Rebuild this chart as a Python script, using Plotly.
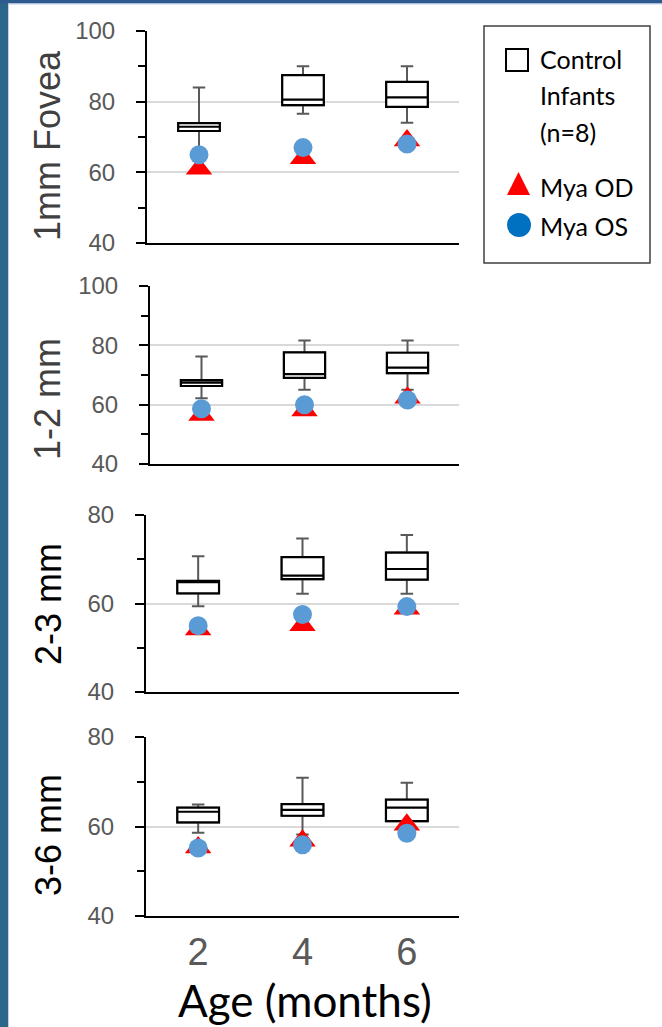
import plotly.graph_objects as go

W, H = 662, 1027

# ---------------- data ----------------
ages = ["2", "4", "6"]

# 1mm Fovea
fov_q1 = [71.7, 79.0, 78.5]
fov_med = [72.9, 80.6, 81.2]
fov_q3 = [73.9, 87.5, 85.6]
fov_lo = [66.0, 76.6, 74.0]
fov_hi = [84.0, 90.0, 90.0]
fov_od = [61.0, 64.0, 69.0]
fov_os = [65.0, 67.0, 68.0]

# 1-2 mm
p12_q1 = [66.3, 69.0, 70.6]
p12_med = [67.4, 70.3, 72.5]
p12_q3 = [68.3, 77.6, 77.5]
p12_lo = [62.2, 65.0, 65.0]
p12_hi = [76.2, 81.6, 81.6]
p12_od = [56.5, 58.0, 62.3]
p12_os = [58.6, 60.0, 61.6]

# 2-3 mm
p23_q1 = [62.3, 65.5, 65.4]
p23_med = [64.8, 66.3, 67.8]
p23_q3 = [65.1, 70.5, 71.5]
p23_lo = [59.4, 62.2, 62.2]
p23_hi = [70.7, 74.7, 75.5]
p23_od = [54.1, 55.1, 58.8]
p23_os = [55.0, 57.5, 59.3]

# 3-6 mm
p36_q1 = [60.9, 62.4, 61.2]
p36_med = [63.3, 63.7, 64.2]
p36_q3 = [64.2, 65.0, 66.0]
p36_lo = [58.6, 58.2, 59.0]
p36_hi = [64.9, 70.9, 69.8]
p36_od = [55.3, 56.8, 60.4]
p36_os = [55.2, 55.9, 58.5]

titles = ["1mm Fovea", "1-2 mm", "2-3 mm", "3-6 mm"]
x_title = "Age (months)"
legend_lines = ["Control", "Infants", "(n=8)"]
od_name = "Mya OD"
os_name = "Mya OS"

# ---------------- layout helpers ----------------
def px(v):
    return v / W

def py(v):
    return 1 - v / H

panels = [
    dict(q1=fov_q1, med=fov_med, q3=fov_q3, lo=fov_lo, hi=fov_hi, od=fov_od, os=fov_os,
         yr=[40, 100], box=(147, 459, 31, 243), tcol="#404040", tx=47, ty=146),
    dict(q1=p12_q1, med=p12_med, q3=p12_q3, lo=p12_lo, hi=p12_hi, od=p12_od, os=p12_os,
         yr=[40, 100], box=(150, 459, 286, 464), tcol="#404040", tx=48, ty=399),
    dict(q1=p23_q1, med=p23_med, q3=p23_q3, lo=p23_lo, hi=p23_hi, od=p23_od, os=p23_os,
         yr=[40, 80], box=(146, 459, 515, 692), tcol="#000000", tx=48, ty=604),
    dict(q1=p36_q1, med=p36_med, q3=p36_q3, lo=p36_lo, hi=p36_hi, od=p36_od, os=p36_os,
         yr=[40, 80], box=(146, 459, 737, 916), tcol="#000000", tx=48, ty=835),
]

ARIAL = "Liberation Sans, Arial, sans-serif"
CAL = "Lato, Carlito, sans-serif"

fig = go.Figure()
layout = dict(
    width=W, height=H,
    margin=dict(l=0, r=0, t=0, b=0, pad=0, autoexpand=False),
    paper_bgcolor="white", plot_bgcolor="white",
    showlegend=False, boxmode="overlay",
)
annotations = []

for i, p in enumerate(panels):
    n = "" if i == 0 else str(i + 1)
    xa, ya = "x" + n, "y" + n
    # whiskers (grey)
    fig.add_trace(go.Box(
        x=ages, q1=p["q1"], median=p["med"], q3=p["q3"],
        lowerfence=p["lo"], upperfence=p["hi"],
        line=dict(color="#595959", width=2), fillcolor="white",
        whiskerwidth=0.3, width=0.4, boxpoints=False, hoverinfo="skip",
        xaxis=xa, yaxis=ya))
    # box body (black)
    fig.add_trace(go.Box(
        x=ages, q1=p["q1"], median=p["med"], q3=p["q3"],
        lowerfence=p["q1"], upperfence=p["q3"],
        line=dict(color="black", width=2.2), fillcolor="white",
        whiskerwidth=0, width=0.4, boxpoints=False, hoverinfo="skip",
        xaxis=xa, yaxis=ya))
    fig.add_trace(go.Scatter(
        x=ages, y=p["od"], mode="markers", name=od_name,
        marker=dict(symbol="triangle-up", size=23, color="#FF0000", line=dict(width=0)),
        xaxis=xa, yaxis=ya))
    fig.add_trace(go.Scatter(
        x=ages, y=p["os"], mode="markers", name=os_name,
        marker=dict(symbol="circle", size=19, color="#5B9BD5", line=dict(width=0)),
        xaxis=xa, yaxis=ya))

    x0, x1, y0, y1 = p["box"]
    layout["xaxis" + n] = dict(
        domain=[px(x0), px(x1)], anchor=ya, type="category",
        categoryorder="array", categoryarray=ages, range=[-0.5, 2.5],
        showline=True, linecolor="black", linewidth=2, ticks="",
        showgrid=False, zeroline=False, showticklabels=(i == 3),
        tickfont=dict(family=ARIAL, size=38, color="#595959"),
        ticklabelstandoff=1, fixedrange=True, automargin=False)
    layout["yaxis" + n] = dict(
        domain=[py(y1), py(y0)], anchor=xa, range=p["yr"], tick0=0, dtick=20,
        showline=True, linecolor="black", linewidth=2,
        ticks="outside", ticklen=9, tickwidth=2, tickcolor="black",
        showgrid=True, gridcolor="#D9D9D9", gridwidth=1.5, zeroline=False,
        tickfont=dict(family=ARIAL, size=24, color="#595959"),
        ticklabelstandoff=16,
        minor=dict(dtick=10, ticks="outside", ticklen=7, tickwidth=2,
                   tickcolor="black", showgrid=False),
        fixedrange=True, automargin=False)
    annotations.append(dict(
        text=titles[i], xref="paper", yref="paper", x=px(p["tx"]), y=py(p["ty"]),
        xanchor="center", yanchor="middle", textangle=-90, showarrow=False,
        font=dict(family=ARIAL, size=36, color=p["tcol"])))

# x-axis title
annotations.append(dict(
    text=x_title, xref="paper", yref="paper", x=px(305), y=py(1000),
    xanchor="center", yanchor="middle", showarrow=False,
    font=dict(family=CAL, size=44, color="black")))

# legend texts
for txt, yy in zip(legend_lines, [59, 95, 132]):
    annotations.append(dict(
        text=txt, xref="paper", yref="paper", x=px(538), y=py(yy),
        xanchor="left", yanchor="middle", showarrow=False,
        font=dict(family=CAL, size=25, color="black")))
for txt, yy in [(od_name, 187), (os_name, 226)]:
    annotations.append(dict(
        text=txt, xref="paper", yref="paper", x=px(538), y=py(yy),
        xanchor="left", yanchor="middle", showarrow=False,
        font=dict(family=CAL, size=25, color="black")))

shapes = [
    # frame
    dict(type="rect", xref="paper", yref="paper", x0=0, x1=px(8), y0=0, y1=1,
         fillcolor="#2C6789", line=dict(width=0), layer="above"),
    dict(type="rect", xref="paper", yref="paper", x0=px(8), x1=px(9), y0=0, y1=py(4),
         fillcolor="#C3CDEB", line=dict(width=0), layer="above"),
    dict(type="rect", xref="paper", yref="paper", x0=0, x1=1, y0=py(3.5), y1=1,
         fillcolor="#2E5A8E", line=dict(width=0), layer="above"),
    dict(type="rect", xref="paper", yref="paper", x0=px(8), x1=1, y0=py(4.5), y1=py(3.5),
         fillcolor="#C3CDEB", line=dict(width=0), layer="above"),
    # legend
    dict(type="rect", xref="paper", yref="paper", x0=px(484), x1=px(650), y0=py(263), y1=py(26),
         fillcolor="white", line=dict(color="#404040", width=1.5), layer="above"),
    dict(type="rect", xref="paper", yref="paper", x0=px(506), x1=px(528), y0=py(71), y1=py(49),
         fillcolor="white", line=dict(color="black", width=2), layer="above"),
    dict(type="path", xref="paper", yref="paper",
         path=f"M {px(507)},{py(195)} L {px(530)},{py(195)} L {px(518.5)},{py(172)} Z",
         fillcolor="#FF0000", line=dict(width=0), layer="above"),
    dict(type="circle", xref="paper", yref="paper", x0=px(507), x1=px(531), y0=py(237), y1=py(213),
         fillcolor="#0070C0", line=dict(width=0), layer="above"),
]

layout["annotations"] = annotations
layout["shapes"] = shapes
fig.update_layout(**layout)
fig.write_html("out.html")
